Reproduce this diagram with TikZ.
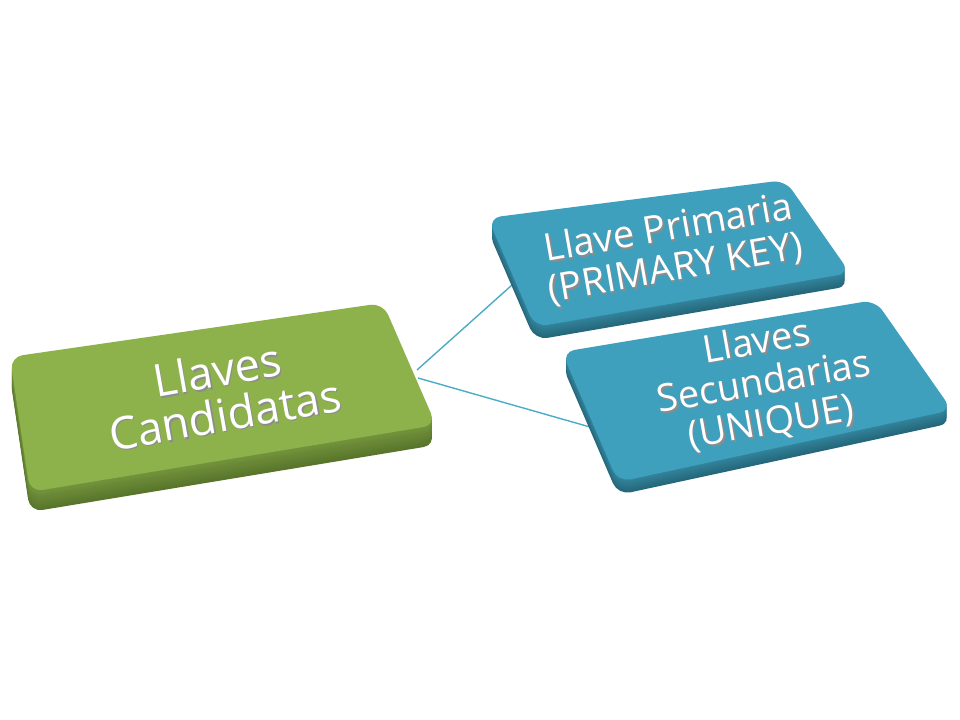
\documentclass[tikz,border=0pt]{standalone}
\usepackage{fontspec}
\setmainfont{Open Sans}
\definecolor{candtop}{HTML}{8DB24C}
\definecolor{candside}{HTML}{56722A}
\definecolor{keytop}{HTML}{3FA0BE}
\definecolor{keyside}{HTML}{256679}
\definecolor{keyline}{HTML}{4BACC6}

\begin{document}
\begin{tikzpicture}[x=0.025cm, y=-0.025cm,
    boxtxt/.style={text=white, align=center, rotate=10, inner sep=0pt},
    txtshadow/.style={boxtxt, text=black!45},
    bigtxt/.style={font=\fontsize{32}{32}\selectfont},
    smalltxt/.style={font=\fontsize{27}{29}\selectfont},
    face/.style={rounded corners=9pt}]
    \useasboundingbox (0,0) rectangle (960,720);

    \coordinate (candR1) at (417,370);
    \coordinate (candR2) at (418,378);
    \coordinate (primL) at (512,285);
    \coordinate (secL) at (590,427);

	% connectors
	\draw [keyline, line width=1pt] (candR1) -- (primL);
	\draw [keyline, line width=1pt] (candR2) -- (secL);

	% Llaves Candidatas
	\foreach \k in {20,18,...,2} {
		\pgfmathtruncatemacro\p{45+2.5*\k}
		\fill [face, candside!\p!candtop, shift={(0,\k)}] (10,357) -- (383,303) -- (436,425) -- (30,492) -- cycle;
	}
	\fill [face, candtop] (10,357) -- (383,303) -- (436,425) -- (30,492) -- cycle;
	\node [txtshadow, bigtxt] (candSh) at (222.5,393.5) {Llaves\\Candidatas};
	\node [boxtxt, bigtxt] (cand) at (221,392) {Llaves\\Candidatas};

	% Llave Primaria
	\foreach \k in {13,11,...,1} {
		\pgfmathtruncatemacro\p{45+4*\k}
		\fill [face, keyside!\p!keytop, shift={(0,\k)}] (488,218) -- (785,180) -- (850,273) -- (535,327) -- cycle;
	}
	\fill [face, keytop] (488,218) -- (785,180) -- (850,273) -- (535,327) -- cycle;
	\node [txtshadow, smalltxt] (primSh) at (673.5,250.5) {Llave Primaria\\(PRIMARY KEY)};
	\node [boxtxt, smalltxt] (prim) at (672,249) {Llave Primaria\\(PRIMARY KEY)};

	% Llaves Secundarias
	\foreach \k in {13,11,...,1} {
		\pgfmathtruncatemacro\p{45+4*\k}
		\fill [face, keyside!\p!keytop, shift={(0,\k)}] (562,352) -- (875,300) -- (952,410) -- (618,482) -- cycle;
	}
	\fill [face, keytop] (562,352) -- (875,300) -- (952,410) -- (618,482) -- cycle;
	\node [txtshadow, smalltxt] (secSh) at (765.5,384.5) {Llaves\\Secundarias\\(UNIQUE)};
	\node [boxtxt, smalltxt] (sec) at (764,383) {Llaves\\Secundarias\\(UNIQUE)};
\end{tikzpicture}
\end{document}
